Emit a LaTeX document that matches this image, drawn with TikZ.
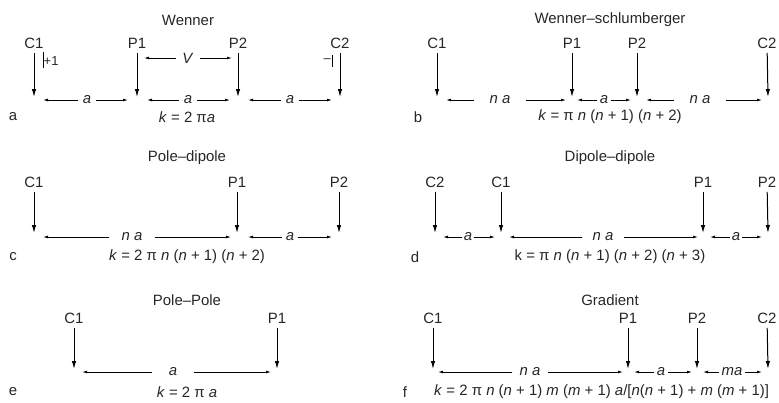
\documentclass[tikz,border=0pt]{standalone}
\usepackage{fontspec}
\setmainfont{Liberation Sans}
\usetikzlibrary{arrows.meta}
\tikzset{
  txt/.style={font=\fontsize{15}{17}\selectfont, text=black!85, inner sep=1.5bp},
  probe/.style={-{Latex[length=8bp,width=4.5bp]}, line width=1bp, shorten <=3bp},
  dim/.style={-{Latex[length=5bp,width=2.8bp]}, line width=0.75bp},
  dimlbl/.style={txt, inner xsep=#1},
  dimlbl/.default=3bp
}
\begin{document}
\begin{tikzpicture}[x=1bp,y=-1bp,every node/.style={txt}]
  \clip (0,0) rectangle (779,402);
  %% a: Wenner
  \node (aT) at (188,20) {Wenner};
  \node (aC1) at (34,43) {C1};
  \node (aP1) at (137,43) {P1};
  \node (aP2) at (238,43) {P2};
  \node (aC2) at (340,43) {C2};
  \coordinate (aC1t) at (34,97);
  \coordinate (aP1t) at (137,97);
  \coordinate (aP2t) at (238,97);
  \coordinate (aC2t) at (340,97);
  \draw [probe] (aC1) -- (aC1t);
  \draw [probe] (aP1) -- (aP1t);
  \draw [probe] (aP2) -- (aP2t);
  \draw [probe] (aC2) -- (aC2t);
  \coordinate (aI1a) at (43,52);
  \coordinate (aI1b) at (43,68);
  \draw [line width=0.9bp] (aI1a) -- (aI1b);
  \node (aI1) at (43.5,61) [anchor=west,inner sep=0pt,font=\fontsize{13}{15}\selectfont] {+1};
  \coordinate (aI2a) at (332,55);
  \coordinate (aI2b) at (332,67);
  \draw [line width=0.9bp] (aI2a) -- (aI2b);
  \node (aI2) at (331,61) [anchor=east,inner sep=0pt,font=\fontsize{13}{15}\selectfont] {--};
  \node (aV) at (188,58) [dimlbl=6bp] {\textit{V}};
  \coordinate (aVl) at (144,58);
  \coordinate (aVr) at (232,58);
  \draw [dim] (aV) -- (aVl);
  \draw [dim] (aV) -- (aVr);
  \node (aA1) at (87,100) [dimlbl=5bp] {\textit{a}};
  \node (aA2) at (188,100) [dimlbl=5bp] {\textit{a}};
  \node (aA3) at (290,100) [dimlbl=5bp] {\textit{a}};
  \coordinate (aA1l) at (43,100);
  \coordinate (aA1r) at (128,100);
  \coordinate (aA2l) at (147,100);
  \coordinate (aA2r) at (230,100);
  \coordinate (aA3l) at (248,100);
  \coordinate (aA3r) at (332,100);
  \draw [dim] (aA1) -- (aA1l);
  \draw [dim] (aA1) -- (aA1r);
  \draw [dim] (aA2) -- (aA2l);
  \draw [dim] (aA2) -- (aA2r);
  \draw [dim] (aA3) -- (aA3l);
  \draw [dim] (aA3) -- (aA3r);
  \node (aL) at (13,117) {a};
  \node (aK) at (187,117) {\textit{k} = 2 π\textit{a}};
  %% b: Wenner-schlumberger
  \node (bT) at (610,20) {Wenner--schlumberger};
  \node (bC1) at (437,43) {C1};
  \node (bP1) at (572,43) {P1};
  \node (bP2) at (637,43) {P2};
  \node (bC2) at (767,43) {C2};
  \coordinate (bC1t) at (437,97);
  \coordinate (bP1t) at (572,97);
  \coordinate (bP2t) at (637,97);
  \coordinate (bC2t) at (768,97);
  \draw [probe] (bC1) -- (bC1t);
  \draw [probe] (bP1) -- (bP1t);
  \draw [probe] (bP2) -- (bP2t);
  \draw [probe] (bC2) -- (bC2t);
  \node (bA1) at (500,100) [dimlbl=15bp] {\textit{n a}};
  \node (bA2) at (604,100) [dimlbl=3bp] {\textit{a}};
  \node (bA3) at (700,100) [dimlbl=15bp] {\textit{n a}};
  \coordinate (bA1l) at (446,100);
  \coordinate (bA1r) at (566,100);
  \coordinate (bA2l) at (577,100);
  \coordinate (bA2r) at (631,100);
  \coordinate (bA3l) at (646,100);
  \coordinate (bA3r) at (762,100);
  \draw [dim] (bA1) -- (bA1l);
  \draw [dim] (bA1) -- (bA1r);
  \draw [dim] (bA2) -- (bA2l);
  \draw [dim] (bA2) -- (bA2r);
  \draw [dim] (bA3) -- (bA3l);
  \draw [dim] (bA3) -- (bA3r);
  \node (bL) at (418,117) {b};
  \node (bK) at (610,117) {\textit{k} = π \textit{n} (\textit{n} + 1) (\textit{n} + 2)};
  %% c: Pole-dipole
  \node (cT) at (187,158) {Pole--dipole};
  \node (cC1) at (34,182) {C1};
  \node (cP1) at (237,182) {P1};
  \node (cP2) at (339,182) {P2};
  \coordinate (cC1t) at (34,233);
  \coordinate (cP1t) at (237,233);
  \coordinate (cP2t) at (339,233);
  \draw [probe] (cC1) -- (cC1t);
  \draw [probe] (cP1) -- (cP1t);
  \draw [probe] (cP2) -- (cP2t);
  \node (cA1) at (132,237) [dimlbl=12bp] {\textit{n a}};
  \node (cA2) at (290,237) [dimlbl=4bp] {\textit{a}};
  \coordinate (cA1l) at (43,237);
  \coordinate (cA1r) at (231,237);
  \coordinate (cA2l) at (248,237);
  \coordinate (cA2r) at (332,237);
  \draw [dim] (cA1) -- (cA1l);
  \draw [dim] (cA1) -- (cA1r);
  \draw [dim] (cA2) -- (cA2l);
  \draw [dim] (cA2) -- (cA2r);
  \node (cL) at (13,257) {c};
  \node (cK) at (187,257) {\textit{k} = 2 π \textit{n} (\textit{n} + 1) (\textit{n} + 2)};
  %% d: Dipole-dipole
  \node (dT) at (610,158) {Dipole--dipole};
  \node (dC2) at (435,182) {C2};
  \node (dC1) at (501,182) {C1};
  \node (dP1) at (703,182) {P1};
  \node (dP2) at (767,182) {P2};
  \coordinate (dC2t) at (435,233);
  \coordinate (dC1t) at (501,233);
  \coordinate (dP1t) at (703,233);
  \coordinate (dP2t) at (768,233);
  \draw [probe] (dC2) -- (dC2t);
  \draw [probe] (dC1) -- (dC1t);
  \draw [probe] (dP1) -- (dP1t);
  \draw [probe] (dP2) -- (dP2t);
  \node (dA1) at (468,237) [dimlbl=2bp] {\textit{a}};
  \node (dA2) at (603,237) [dimlbl=10bp] {\textit{n a}};
  \node (dA3) at (736,237) [dimlbl=2bp] {\textit{a}};
  \coordinate (dA1l) at (443,237);
  \coordinate (dA1r) at (495,237);
  \coordinate (dA2l) at (509,237);
  \coordinate (dA2r) at (698,237);
  \coordinate (dA3l) at (710,237);
  \coordinate (dA3r) at (762,237);
  \draw [dim] (dA1) -- (dA1l);
  \draw [dim] (dA1) -- (dA1r);
  \draw [dim] (dA2) -- (dA2l);
  \draw [dim] (dA2) -- (dA2r);
  \draw [dim] (dA3) -- (dA3l);
  \draw [dim] (dA3) -- (dA3r);
  \node (dL) at (415,257) {d};
  \node (dK) at (610,257) {k = π \textit{n} (\textit{n} + 1) (\textit{n} + 2) (\textit{n} + 3)};
  %% e: Pole-Pole
  \node (eT) at (187,300) {Pole--Pole};
  \node (eC1) at (74,318) {C1};
  \node (eP1) at (277,318) {P1};
  \coordinate (eC1t) at (74,369);
  \coordinate (eP1t) at (277,369);
  \draw [probe] (eC1) -- (eC1t);
  \draw [probe] (eP1) -- (eP1t);
  \node (eA1) at (173,372) [dimlbl=17bp] {\textit{a}};
  \coordinate (eA1l) at (82,372);
  \coordinate (eA1r) at (271,372);
  \draw [dim] (eA1) -- (eA1l);
  \draw [dim] (eA1) -- (eA1r);
  \node (eL) at (13,392) {e};
  \node (eK) at (187,392) {\textit{k} = 2 π \textit{a}};
  %% f: Gradient
  \node (fT) at (610,300) {Gradient};
  \node (fC1) at (433,318) {C1};
  \node (fP1) at (628,318) {P1};
  \node (fP2) at (697,318) {P2};
  \node (fC2) at (767,318) {C2};
  \coordinate (fC1t) at (433,369);
  \coordinate (fP1t) at (628,369);
  \coordinate (fP2t) at (697,369);
  \coordinate (fC2t) at (768,369);
  \draw [probe] (fC1) -- (fC1t);
  \draw [probe] (fP1) -- (fP1t);
  \draw [probe] (fP2) -- (fP2t);
  \draw [probe] (fC2) -- (fC2t);
  \node (fA1) at (530,372) [dimlbl=7bp] {\textit{n a}};
  \node (fA2) at (661,372) [dimlbl=3bp] {\textit{a}};
  \node (fA3) at (732,372) [dimlbl=2bp] {\textit{ma}};
  \coordinate (fA1l) at (438,372);
  \coordinate (fA1r) at (623,372);
  \coordinate (fA2l) at (634,372);
  \coordinate (fA2r) at (692,372);
  \coordinate (fA3l) at (703,372);
  \coordinate (fA3r) at (762,372);
  \draw [dim] (fA1) -- (fA1l);
  \draw [dim] (fA1) -- (fA1r);
  \draw [dim] (fA2) -- (fA2l);
  \draw [dim] (fA2) -- (fA2r);
  \draw [dim] (fA3) -- (fA3l);
  \draw [dim] (fA3) -- (fA3r);
  \node (fL) at (405,392) {f};
  \node (fK) at (434,392) [anchor=west,inner xsep=0pt] {\textit{k} = 2 π \textit{n} (\textit{n} + 1) \textit{m} (\textit{m} + 1) \textit{a}/[\textit{n}(\textit{n} + 1) + \textit{m} (\textit{m} + 1)]};
\end{tikzpicture}
\end{document}
